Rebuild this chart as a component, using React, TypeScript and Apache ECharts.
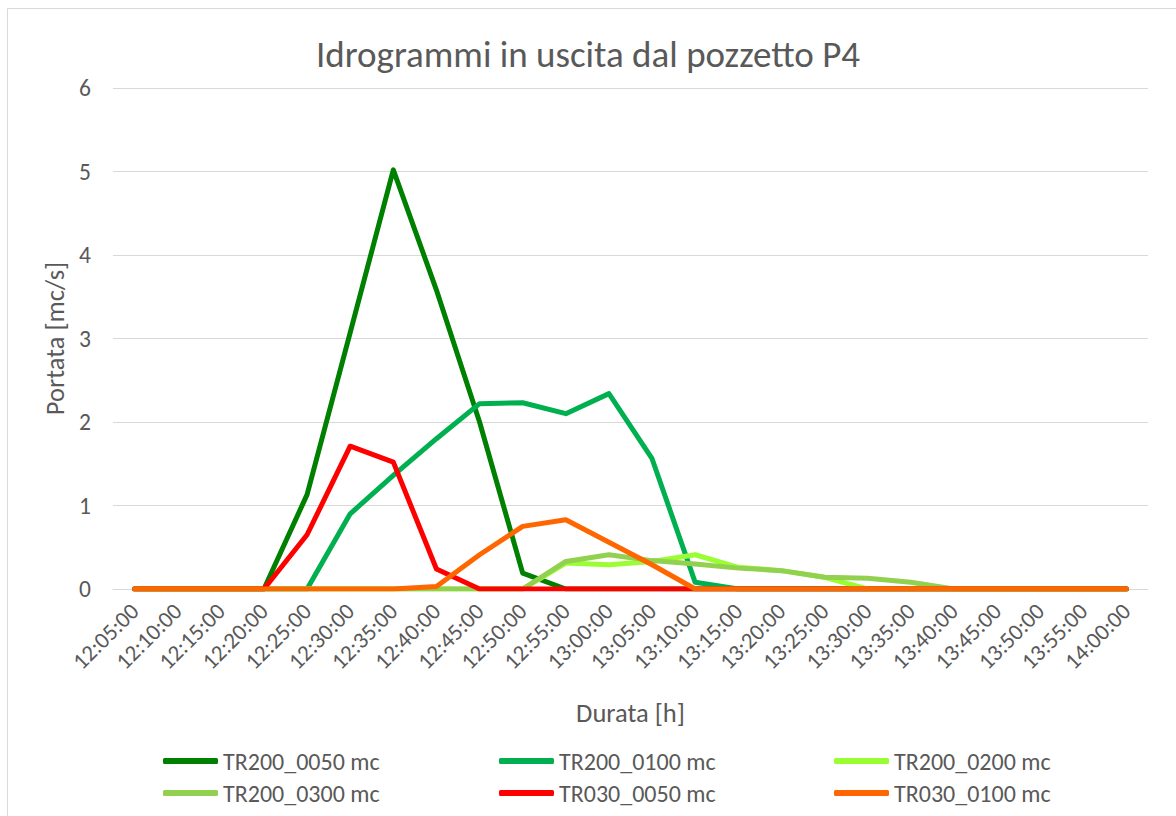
import React, { useEffect, useRef } from "react";
import * as echarts from "echarts";

const categories = [
  "12:05:00", "12:10:00", "12:15:00", "12:20:00", "12:25:00", "12:30:00",
  "12:35:00", "12:40:00", "12:45:00", "12:50:00", "12:55:00", "13:00:00",
  "13:05:00", "13:10:00", "13:15:00", "13:20:00", "13:25:00", "13:30:00",
  "13:35:00", "13:40:00", "13:45:00", "13:50:00", "13:55:00", "14:00:00",
];

const tr200_0050 = [0, 0, 0, 0, 1.13, 3.07, 5.02, 3.58, 2.0, 0.19, 0, 0, 0, 0, 0, 0, 0, 0, 0, 0, 0, 0, 0, 0];
const tr200_0100 = [0, 0, 0, 0, 0, 0.9, 1.36, 1.8, 2.22, 2.23, 2.1, 2.34, 1.56, 0.08, 0, 0, 0, 0, 0, 0, 0, 0, 0, 0];
const tr200_0200 = [0, 0, 0, 0, 0, 0, 0, 0, 0, 0, 0.31, 0.29, 0.33, 0.41, 0.26, 0.22, 0.14, 0, 0, 0, 0, 0, 0, 0];
const tr200_0300 = [0, 0, 0, 0, 0, 0, 0, 0, 0, 0, 0.33, 0.41, 0.34, 0.3, 0.25, 0.22, 0.14, 0.13, 0.08, 0, 0, 0, 0, 0];
const tr030_0050 = [0, 0, 0, 0, 0.65, 1.71, 1.52, 0.24, 0, 0, 0, 0, 0, 0, 0, 0, 0, 0, 0, 0, 0, 0, 0, 0];
const tr030_0100 = [0, 0, 0, 0, 0, 0, 0, 0.03, 0.41, 0.75, 0.83, 0.56, 0.29, 0, 0, 0, 0, 0, 0, 0, 0, 0, 0, 0];

const seriesNames = [
  "TR200_0050 mc", "TR200_0100 mc", "TR200_0200 mc",
  "TR200_0300 mc", "TR030_0050 mc", "TR030_0100 mc",
];
const seriesData = [tr200_0050, tr200_0100, tr200_0200, tr200_0300, tr030_0050, tr030_0100];
const seriesColors = ["#008000", "#00B050", "#99FF33", "#92D050", "#FF0000", "#FF6600"];

const FONT = "Carlito, Lato, 'Liberation Sans', sans-serif";
const TXT = "#595959";

export default function App() {
  const ref = useRef<HTMLDivElement>(null);
  useEffect(() => {
    if (!ref.current) return;
    const chart = echarts.init(ref.current, undefined, { renderer: "svg" });
    const legendPos = [
      [163, 749], [499, 749], [834, 749],
      [163, 781], [499, 781], [834, 781],
    ];
    chart.setOption({
      animation: false,
      backgroundColor: "#ffffff",
      textStyle: { fontFamily: FONT },
      title: {
        text: "Idrogrammi in uscita dal pozzetto P4",
        left: "center",
        top: 31,
        textStyle: { fontFamily: FONT, fontSize: 37, fontWeight: "normal", color: TXT },
      },
      graphic: [
        {
          type: "rect",
          shape: { x: 7.5, y: 8.5, width: 1300, height: 1000 },
          style: { fill: "none", stroke: "#D9D9D9", lineWidth: 1 },
          silent: true,
        },
      ],
      legend: seriesNames.map((n, i) => ({
        data: [n],
        left: legendPos[i][0],
        top: legendPos[i][1],
        padding: 0,
        icon: "roundRect",
        itemWidth: 55,
        itemHeight: 6,
        itemGap: 0,
        textStyle: { fontFamily: FONT, fontSize: 24, color: TXT },
      })),
      grid: { left: 113, right: 28, top: 88, bottom: 227, containLabel: false },
      xAxis: {
        type: "category",
        data: categories,
        boundaryGap: true,
        name: "Durata [h]",
        nameLocation: "middle",
        nameGap: 110,
        nameTextStyle: { fontFamily: FONT, fontSize: 26.5, color: TXT },
        axisLine: { show: true, lineStyle: { color: "#D9D9D9", width: 1 } },
        axisTick: { show: false },
        axisLabel: {
          rotate: 45,
          interval: 0,
          fontFamily: FONT,
          fontSize: 23,
          color: TXT,
          margin: 18,
        },
        splitLine: { show: false },
      },
      yAxis: {
        type: "value",
        min: 0,
        max: 6,
        interval: 1,
        name: "Portata [mc/s]",
        nameLocation: "middle",
        nameGap: 42,
        nameTextStyle: { fontFamily: FONT, fontSize: 26.5, color: TXT },
        axisLine: { show: false },
        axisTick: { show: false },
        axisLabel: { fontFamily: FONT, fontSize: 23.5, color: TXT, margin: 22 },
        splitLine: { lineStyle: { color: "#D9D9D9", width: 1 } },
      },
      series: seriesNames.map((n, i) => ({
        name: n,
        type: "line",
        data: seriesData[i],
        showSymbol: false,
        symbol: "none",
        color: seriesColors[i],
        lineStyle: { width: 5, color: seriesColors[i], cap: "round", join: "round" },
        z: 2 + i,
      })),
    });
    return () => chart.dispose();
  }, []);
  return (
    <div
      ref={ref}
      style={{ position: "absolute", left: 0, top: 0, width: 1176, height: 816 }}
    />
  );
}
